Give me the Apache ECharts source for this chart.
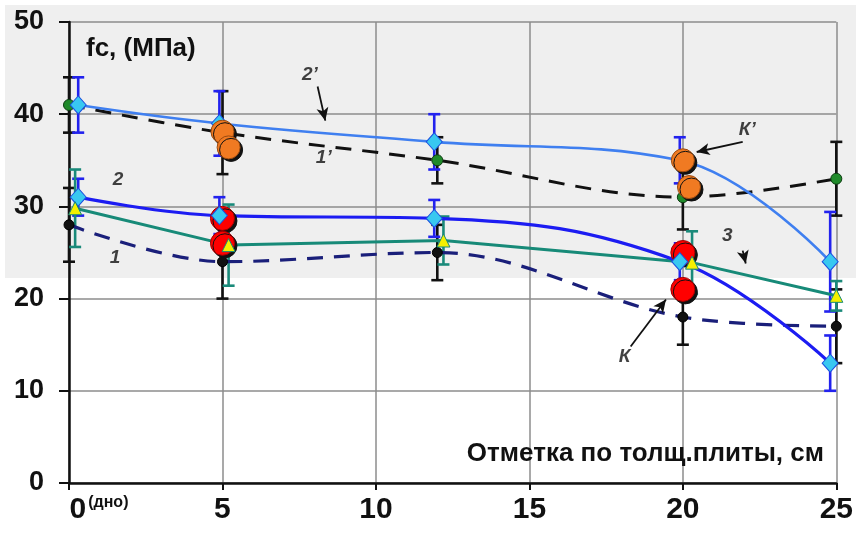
<!DOCTYPE html>
<html><head><meta charset="utf-8">
<script src="https://cdn.jsdelivr.net/npm/echarts@6/dist/echarts.min.js"></script>
<style>html,body{margin:0;padding:0;background:#fff}#c{width:856px;height:542px}</style>
</head><body><div id="c"></div>
<script>
// x ticks and axis
const xTicks = [0, 5, 10, 15, 20, 25];
const yTicks = [0, 10, 20, 30, 40, 50];
// series 1 (dashed navy, black dots)
const depth1 = [0, 5, 12, 20, 25];
const fc1 = [28, 24, 25, 18, 17];
const err1 = [4, 4, 3, 3, 4];
// series 1' (dashed black, green dots)
const fc1p = [41, 38, 35, 31, 33];
const err1p = [3, 4.5, 2.5, 3.5, 4];
// series 2 and 2' (diamonds)
const depth2 = [0.3, 4.9, 11.9, 19.9, 24.8];
const fc2 = [31, 29, 28.7, 24, 13];
const err2 = [2, 2, 2, 2, 3];
const fc2p = [41, 39, 37, 35, 24];
const err2p = [3, 3.5, 3, 2.5, 5.4];
// series 3 (teal, triangles)
const depth3 = [0.2, 5.2, 12.2, 20.3, 25];
const fc3 = [29.8, 25.8, 26.3, 23.9, 20.3];
const err3 = [4.2, 4.4, 2.6, 3.4, 1.6];
// K (red circles) and K' (orange circles)
const kX = [5, 5, 20, 20];
const kY = [28.7, 26, 25, 21];
const kpX = [5, 5.2, 20, 20.2];
const kpY = [38.1, 36.4, 35, 32.1];
// annotations
const noteX = [7.85, 8.3, 1.6, 1.5, 21.45, 22.1, 18.1];
const noteY = [44.3, 35.3, 32.9, 24.4, 26.8, 38.3, 13.7];
const noteText = ['2’', '1’', '2', '1', '3', 'К’', 'К'];
const arrows = [
  [8.1, 43.0, 8.35, 39.3],
  [21.95, 37.0, 20.45, 35.9],
  [18.3, 14.8, 19.45, 19.9],
  [21.95, 25.2, 22.05, 23.8]
];

const zip = (xs, ys) => xs.map((x, i) => [x, ys[i]]);
const zip3 = (xs, ys, es) => xs.map((x, i) => [x, ys[i], es[i]]);

function errSeries(data, color, z) {
  return {
    type: 'custom', z: z, silent: true,
    encode: { x: 0, y: 1 },
    data: data,
    renderItem: function (params, api) {
      const x = api.value(0), y = api.value(1), e = api.value(2);
      const t = api.coord([x, y + e]);
      const b = api.coord([x, y - e]);
      const hw = 6;
      const st = { stroke: color, lineWidth: 2.6 };
      return { type: 'group', children: [
        { type: 'line', shape: { x1: t[0], y1: t[1], x2: b[0], y2: b[1] }, style: st },
        { type: 'line', shape: { x1: t[0] - hw, y1: t[1], x2: t[0] + hw, y2: t[1] }, style: st },
        { type: 'line', shape: { x1: b[0] - hw, y1: b[1], x2: b[0] + hw, y2: b[1] }, style: st }
      ]};
    }
  };
}
function lineSeries(data, color, width, dash, z, smooth) {
  return {
    type: 'line', data: data, symbol: 'none', smooth: smooth, z: z, silent: true,
    lineStyle: { color: color, width: width, type: dash || 'solid', cap: 'butt' }
  };
}
function markerSeries(data, symbol, size, fill, border, bw, z, shadow) {
  const st = { color: fill, borderColor: border, borderWidth: bw, opacity: 1 };
  if (shadow) { st.shadowColor = '#111'; st.shadowOffsetX = 2.5; st.shadowOffsetY = 2.5; st.shadowBlur = 0; }
  return { type: 'scatter', data: data, symbol: symbol, symbolSize: size, z: z, silent: true, itemStyle: st };
}

const chart = echarts.init(document.getElementById('c'), null, { renderer: 'canvas' });
chart.setOption({
  animation: false,
  backgroundColor: '#ffffff',
  graphic: [{ type: 'rect', left: 5, top: 5, z: -10, shape: { width: 851, height: 273 }, style: { fill: '#efefef' } }],
  title: [
    { text: 'fc, (МПа)', left: 81, top: 31, textStyle: { fontFamily: 'Liberation Sans, Arial, sans-serif', fontWeight: 'bold', fontSize: 26, color: '#111' } },
    { text: 'Отметка по толщ.плиты, см', right: 27, top: 436, textStyle: { fontFamily: 'Liberation Sans, Arial, sans-serif', fontWeight: 'bold', fontSize: 26, color: '#111' } }
  ],
  grid: { left: 69, right: 18, top: 22, bottom: 59, containLabel: false },
  xAxis: {
    type: 'value', min: xTicks[0], max: xTicks[xTicks.length - 1], interval: 5,
    axisLine: { show: true, onZero: false, lineStyle: { color: '#111', width: 2.5 } },
    axisTick: { show: true, inside: false, length: 7, lineStyle: { color: '#111', width: 2 } },
    splitLine: { show: true, lineStyle: { color: '#8c8c8c', width: 1.5 } },
    axisLabel: {
      margin: 12, color: '#111', fontFamily: 'Liberation Sans, Arial, sans-serif', fontWeight: 'bold', fontSize: 30,
      formatter: function (v) { return v === 0 ? '{p|}0{s|(дно)}' : String(v); },
      rich: {
        p: { width: 60 },
        s: { fontSize: 16, fontWeight: 'bold', fontFamily: 'Liberation Sans, Arial, sans-serif', color: '#111', verticalAlign: 'top', padding: [0, 0, 10, 2] }
      }
    }
  },
  yAxis: {
    type: 'value', min: yTicks[0], max: yTicks[yTicks.length - 1], interval: 10,
    axisLine: { show: true, lineStyle: { color: '#111', width: 2.5 } },
    axisTick: { show: true, inside: false, length: 10, lineStyle: { color: '#111', width: 2 } },
    splitLine: { show: true, lineStyle: { color: '#8c8c8c', width: 1.5 } },
    axisLabel: { margin: 25, color: '#111', fontFamily: 'Liberation Sans, Arial, sans-serif', fontWeight: 'bold', fontSize: 27 }
  },
  series: [
    errSeries(zip3(depth1, fc1p, err1p), '#111', 3),
    errSeries(zip3(depth1, fc1, err1), '#111', 3),
    errSeries(zip3(depth2, fc2p, err2p), '#2222ee', 3),
    errSeries(zip3(depth2, fc2, err2), '#2222ee', 3),
    errSeries(zip3(depth3, fc3, err3), '#1a8a7a', 3),
    lineSeries(zip(depth1, fc1p), '#111', 3, [16, 11], 4, 0.35),
    lineSeries(zip(depth1, fc1), '#1a1f7a', 3.2, [16, 11], 4, 0.35),
    lineSeries(zip(depth2, fc2p), '#3f7ff0', 2.6, 'solid', 4, 0.4),
    lineSeries(zip(depth3, fc3), '#178a78', 3, 'solid', 4, false),
    lineSeries(zip(depth2, fc2), '#1c1cf2', 3.2, 'solid', 5, 0.4),
    markerSeries(zip(depth1, fc1p), 'circle', 11, '#1f8a2a', '#0b3a10', 1, 6),
    markerSeries(zip(depth1, fc1), 'circle', 10, '#111', '#000', 1, 6),
    markerSeries(zip(depth2, fc2p), 'diamond', [16, 18], '#38c8f0', '#1a50e0', 1, 7),
    markerSeries(zip(kpX, kpY), 'circle', 23, '#f07a22', '#9a4a10', 1, 8, true),
    markerSeries(zip(kX, kY), 'circle', 24, '#ff0000', '#a00000', 1, 8, true),
    markerSeries(zip(depth2, fc2), 'diamond', [16, 18], '#38c8f0', '#1a50e0', 1, 9),
    markerSeries(zip(depth3, fc3), 'triangle', 13, '#f5f000', '#178a78', 1, 10),
    {
      type: 'scatter', z: 11, silent: true, symbolSize: 0,
      data: noteX.map((x, i) => [x, noteY[i], noteText[i]]),
      label: { show: true, position: 'inside', formatter: p => p.data[2], fontFamily: 'Liberation Sans, Arial, sans-serif', fontStyle: 'italic', fontWeight: 'bold', fontSize: 19, color: '#111' },
      markLine: {
        silent: true, symbol: ['none', 'arrow'], symbolSize: [9, 13], animation: false,
        label: { show: false },
        lineStyle: { color: '#111', width: 1.8, type: 'solid' },
        data: arrows.map(a => [{ coord: [a[0], a[1]] }, { coord: [a[2], a[3]] }])
      }
    }
  ]
});
</script>
</body></html>
